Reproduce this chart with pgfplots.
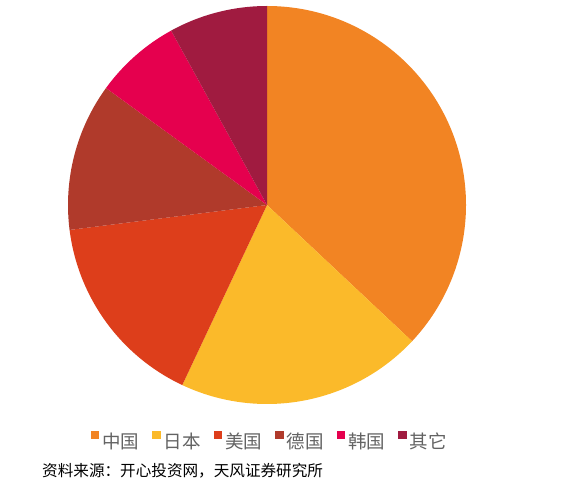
\documentclass[border=0pt]{standalone}
\usepackage{pgfplots}
\usepackage{pgfplotstable}
\pgfplotsset{compat=1.18}
\usepackage{fontspec}
\setmainfont{Noto Sans CJK SC}

\definecolor{cCN}{HTML}{F28423}
\definecolor{cJP}{HTML}{FBBA2A}
\definecolor{cUS}{HTML}{DD3E1B}
\definecolor{cDE}{HTML}{B03A2B}
\definecolor{cKR}{HTML}{E5004E}
\definecolor{cOT}{HTML}{A01B40}
\definecolor{legtext}{HTML}{636363}

% share by country, clockwise from 12 o'clock
\pgfplotstableread{
value color
37 cCN
20 cJP
16 cUS
12 cDE
7 cKR
8 cOT
}\piedata

\begin{document}
\begin{tikzpicture}
\useasboundingbox (0,0) rectangle (572pt,482pt);
\begin{axis}[
    at={(0,0)}, anchor=south west,
    width=572pt, height=482pt,
    scale only axis,
    xmin=0, xmax=572, ymin=0, ymax=482,
    hide axis,
    clip=false,
    legend columns=6,
    legend image code/.code={\fill[#1,draw=none] (0pt,2pt) rectangle (8.5pt,10.5pt);},
    legend style={
        at={(axis cs:270,41)}, anchor=center,
        draw=none, fill=none,
        text=legtext,
        font=\fontsize{18.5}{20}\selectfont,
        nodes={inner xsep=3pt, font=\fontsize{18.5}{20}\selectfont},
        /tikz/every even column/.append style={column sep=10pt},
    },
]
\pgfplotsextra{%
  \gdef\startang{90}%
  \foreach \i in {0,...,5}{%
    \pgfplotstablegetelem{\i}{value}\of\piedata
    \pgfmathsetmacro\endang{\startang-3.6*\pgfplotsretval}%
    \pgfplotstablegetelem{\i}{color}\of\piedata
    \fill[fill=\pgfplotsretval] (axis cs:267,277) -- ++(\startang:199pt)
        arc[start angle=\startang, end angle=\endang, radius=199pt] -- cycle;
    \xdef\startang{\endang}%
  }%
}
\addlegendimage{fill=cCN}\addlegendentry{中国}
\addlegendimage{fill=cJP}\addlegendentry{日本}
\addlegendimage{fill=cUS}\addlegendentry{美国}
\addlegendimage{fill=cDE}\addlegendentry{德国}
\addlegendimage{fill=cKR}\addlegendentry{韩国}
\addlegendimage{fill=cOT}\addlegendentry{其它}
\node[anchor=west, font=\fontsize{15.6}{18}\selectfont, inner sep=0pt]
    at (axis cs:42,11) {资料来源：开心投资网，天风证券研究所};
\end{axis}
\end{tikzpicture}
\end{document}
